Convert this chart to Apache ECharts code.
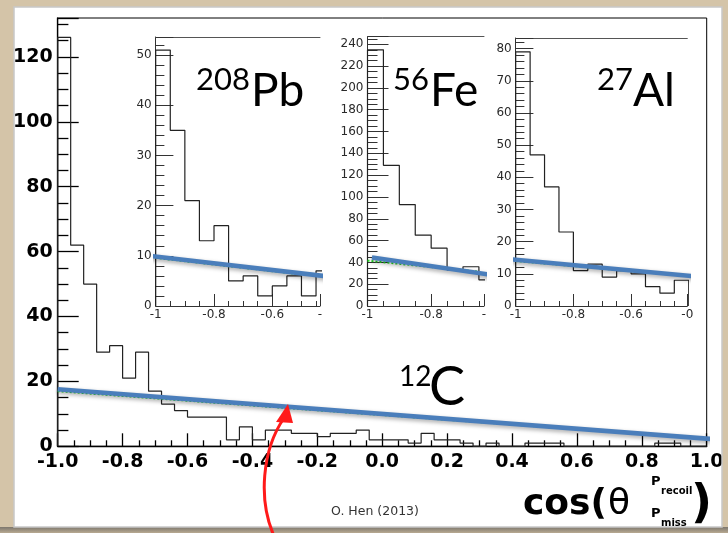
<!DOCTYPE html>
<html><head><meta charset="utf-8">
<script src="https://cdn.jsdelivr.net/npm/echarts@6/dist/echarts.min.js"></script>
<style>html,body{margin:0;padding:0;background:#fff}#c{width:728px;height:533px}</style>
</head><body><div id="c"></div>
<script>
// ---- data ----
const mainBinStart = -1.0, mainBinWidth = 0.04;
const mainCounts = [126,62,50,29,31,21,29,17,13,11, 9,9,9,2,6,2,5,5,4,4, 3,4,4,5,2,2,2,1,4,2, 2,1,0,1,0,0,1,1,1,0, 0,0,0,0,0,0,1,1,0,0];
const insetBinStart = -1.0, insetBinWidth = 0.05;
const pbCounts = [51,35,21,13,16,5,6,2,4,6,2,7];
const feCounts = [235,129,93,65,53,33,36,24];
const alCounts = [79,47,37,23,11,13,9,11,10,6,4,8];
const mainFitBlue = [[-1.0,17.6],[1.015,2.25]];
const mainFitGreen = [[-1.0,17.0],[1.0,2.3]];
const pbFitBlue = [[-1.025,10.0],[-0.402,5.84]];
const pbFitGreen = [[-1.0,9.6],[-0.5,6.3]];
const feFitBlue = [[-0.986,44.4],[-0.586,27.5]];
const feFitGreen = [[-1.0,41.6],[-0.65,31.5]];
const alFitBlue = [[-1.017,14.5],[-0.361,9.1]];
const alFitGreen = [[-1.0,14.0],[-0.4,9.3]];
const mainXTickLabels = ['-1.0','-0.8','-0.6','-0.4','-0.2','0.0','0.2','0.4','0.6','0.8','1.0'];
const mainYTickLabels = ['0','20','40','60','80','100','120'];
const labels = {pb:['208','Pb'], fe:['56','Fe'], al:['27','Al'], c:['12','C']};
const credit = 'O. Hen (2013)';

function stepData(counts, start, width){
  const d = [[start, 0]];
  counts.forEach((v,i)=>{ d.push([start + i*width, v]); });
  d.push([start + counts.length*width, counts[counts.length-1]]);
  d.push([start + counts.length*width, 0]);
  return d;
}
const isMult = (v, s) => Math.abs(v/s - Math.round(v/s)) < 1e-6;

function insetX(grid, max, partial){
  return {type:'value', gridIndex:grid, min:-1, max:max, interval:0.2,
    axisLine:{show:true, onZero:false, lineStyle:{color:'#333', width:1}},
    axisTick:{show:true, inside:true, length:12, lineStyle:{color:'#333'}},
    minorTick:{show:true, splitNumber:4, length:5, lineStyle:{color:'#333'}},
    splitLine:{show:false}, minorSplitLine:{show:false},
    axisLabel:{show:true, margin:3, color:'#2a2a2a', fontSize:12, fontFamily:'DejaVu Sans', showMinLabel:true, showMaxLabel:true,
      formatter:v=>{ if (Math.abs(v+1)<1e-6) return '-1'; if (isMult(v,0.2)) return v.toFixed(1); return partial; }}};
}
function insetTop(grid, max){
  return {type:'value', gridIndex:grid, min:-1, max:max, position:'top',
    axisLine:{show:true, onZero:false, lineStyle:{color:'#555', width:1}},
    axisTick:{show:false}, axisLabel:{show:false}, splitLine:{show:false}};
}
function insetY(grid, max, interval, split, majLen, minLen){
  return {type:'value', gridIndex:grid, min:0, max:max, interval:interval,
    axisLine:{show:true, onZero:false, lineStyle:{color:'#333', width:1}},
    axisTick:{show:true, inside:true, length:majLen, lineStyle:{color:'#333'}},
    minorTick:{show:true, splitNumber:split, length:minLen, lineStyle:{color:'#333'}},
    splitLine:{show:false}, minorSplitLine:{show:false},
    axisLabel:{show:true, margin:4, color:'#2a2a2a', fontSize:12, fontFamily:'DejaVu Sans', showMinLabel:true,
      formatter:v=> isMult(v,interval) ? String(Math.round(v)) : ''}};
}
function hist(data, xi, yi){
  return {type:'line', xAxisIndex:xi, yAxisIndex:yi, data:data, step:'end', symbol:'none', clip:true,
    lineStyle:{color:'#222', width:1.2}, z:3, animation:false};
}
function fit(data, xi, yi, blue){
  return blue ? {type:'line', xAxisIndex:xi, yAxisIndex:yi, data:data, symbol:'none', clip:false, z:6, animation:false,
      lineStyle:{color:'#4a7ebb', width:4.5, shadowBlur:4, shadowColor:'rgba(0,0,0,0.35)', shadowOffsetY:2}}
    : {type:'line', xAxisIndex:xi, yAxisIndex:yi, data:data, symbol:'none', clip:false, z:5, animation:false,
      lineStyle:{color:'#22dd22', width:2, type:'dotted'}};
}

const chart = echarts.init(document.getElementById('c'), null, {renderer:'canvas'});
const boldAxis = {fontFamily:'DejaVu Sans', fontWeight:'bold', fontSize:19, color:'#000'};
const option = {
  backgroundColor:'#fff',
  animation:false,
  grid:[
    {left:57.7, top:18, width:649, height:428.3, show:true, borderColor:'#000', borderWidth:1, outerBoundsMode:'none', containLabel:false},
    {left:155.7, top:37, width:164.3, height:269, outerBoundsMode:'none', containLabel:false},
    {left:367.5, top:36.7, width:116.5, height:269.3, outerBoundsMode:'none', containLabel:false},
    {left:515.7, top:38, width:171.6, height:268, outerBoundsMode:'none', containLabel:false}
  ],
  xAxis:[
    {type:'value', gridIndex:0, min:-1, max:1, interval:0.2,
      axisLine:{show:true, onZero:false, lineStyle:{color:'#000', width:1.3}},
      axisTick:{show:true, inside:true, length:13, lineStyle:{color:'#000', width:1.3}},
      minorTick:{show:true, splitNumber:4, length:6, lineStyle:{color:'#000', width:1.3}},
      splitLine:{show:false}, minorSplitLine:{show:false},
      axisLabel:Object.assign({margin:6, showMinLabel:true, showMaxLabel:true,
        formatter:v=>{ const i = Math.round((v+1)/0.2); return mainXTickLabels[i]; }}, boldAxis)},
    insetX(1, -0.4364, '-'), insetTop(1, -0.4364),
    insetX(2, -0.634, '-'), insetTop(2, -0.634),
    insetX(3, -0.405, '-0'), insetTop(3, -0.405)
  ],
  yAxis:[
    {type:'value', gridIndex:0, min:0, max:132, interval:20,
      axisLine:{show:true, onZero:false, lineStyle:{color:'#000', width:1.3}},
      axisTick:{show:true, inside:true, length:21, lineStyle:{color:'#000', width:1.3}},
      minorTick:{show:true, splitNumber:4, length:10.7, lineStyle:{color:'#000', width:1.3}},
      splitLine:{show:false}, minorSplitLine:{show:false},
      axisLabel:Object.assign({margin:5, showMinLabel:true, showMaxLabel:false,
        formatter:v=> isMult(v,20) ? mainYTickLabels[Math.round(v/20)] : ''}, boldAxis)},
    insetY(1, 53.6, 10, 5, 17.7, 8.7),
    insetY(2, 247, 20, 4, 21, 10),
    insetY(3, 83.3, 10, 5, 17.7, 8.7)
  ],
  series:[
    hist(stepData(mainCounts, mainBinStart, mainBinWidth), 0, 0),
    fit(mainFitGreen, 0, 0, false), fit(mainFitBlue, 0, 0, true),
    hist(stepData(pbCounts, insetBinStart, insetBinWidth), 1, 1),
    fit(pbFitGreen, 1, 1, false), fit(pbFitBlue, 1, 1, true),
    hist(stepData(feCounts, insetBinStart, insetBinWidth), 3, 2),
    fit(feFitGreen, 3, 2, false), fit(feFitBlue, 3, 2, true),
    hist(stepData(alCounts, insetBinStart, insetBinWidth), 5, 3),
    fit(alFitGreen, 5, 3, false), fit(alFitBlue, 5, 3, true)
  ],
  graphic:[
    // paper card surroundings
    {type:'rect', z:100, shape:{x:0,y:0,width:14,height:533}, style:{fill:'#d4c4a8'}},
    {type:'rect', z:100, shape:{x:0,y:0,width:728,height:7}, style:{fill:'#d4c4a8'}},
    {type:'rect', z:100, shape:{x:722,y:0,width:6,height:533}, style:{fill:'#d4c4a8'}},
    {type:'rect', z:100, shape:{x:0,y:527,width:728,height:6}, style:{fill:new echarts.graphic.LinearGradient(0,0,0,1,[{offset:0,color:'#7d776d'},{offset:1,color:'#b8aa92'}])}},
    {type:'rect', z:100, shape:{x:14,y:7,width:708,height:520}, style:{fill:'none', stroke:'#c8c8c8', lineWidth:1.5}},
    // nucleus labels
    {type:'text', z:100, x:196, y:80, style:{text:labels.pb[0], font:'31px Lato', fill:'#000', textVerticalAlign:'middle'}},
    {type:'text', z:100, x:251, y:91, style:{text:labels.pb[1], font:'46px Lato', fill:'#000', textVerticalAlign:'middle'}},
    {type:'text', z:100, x:393, y:80, style:{text:labels.fe[0], font:'31px Lato', fill:'#000', textVerticalAlign:'middle'}},
    {type:'text', z:100, x:430, y:91, style:{text:labels.fe[1], font:'46px Lato', fill:'#000', textVerticalAlign:'middle'}},
    {type:'text', z:100, x:597, y:80, style:{text:labels.al[0], font:'31px Lato', fill:'#000', textVerticalAlign:'middle'}},
    {type:'text', z:100, x:633, y:91, style:{text:labels.al[1], font:'46px Lato', fill:'#000', textVerticalAlign:'middle'}},
    {type:'text', z:100, x:399, y:377, style:{text:labels.c[0], font:'28px Lato', fill:'#000', textVerticalAlign:'middle'}},
    {type:'text', z:100, x:429, y:388, style:{text:labels.c[1], font:'54px Lato', fill:'#000', textVerticalAlign:'middle'}},
    // credit
    {type:'text', z:100, x:375, y:512, style:{text:credit, font:'12.5px "DejaVu Sans"', fill:'#333', textAlign:'center', textVerticalAlign:'middle'}},
    // axis title
    {type:'text', z:100, x:523, y:505, style:{text:'cos(', font:'bold 36px "DejaVu Sans"', fill:'#000', textVerticalAlign:'middle'}},
    {type:'text', z:100, x:608, y:505, style:{text:'θ', font:'36px "DejaVu Sans"', fill:'#000', textVerticalAlign:'middle'}},
    {type:'text', z:100, x:651, y:482, style:{text:'P', font:'bold 13px "DejaVu Sans"', fill:'#000', textVerticalAlign:'middle'}},
    {type:'text', z:100, x:661, y:491, style:{text:'recoil', font:'bold 10px "DejaVu Sans"', fill:'#000', textVerticalAlign:'middle'}},
    {type:'text', z:100, x:651, y:514, style:{text:'P', font:'bold 13px "DejaVu Sans"', fill:'#000', textVerticalAlign:'middle'}},
    {type:'text', z:100, x:661, y:523, style:{text:'miss', font:'bold 10px "DejaVu Sans"', fill:'#000', textVerticalAlign:'middle'}},
    {type:'text', z:100, x:691, y:505, style:{text:')', font:'bold 46px "DejaVu Sans"', fill:'#000', textVerticalAlign:'middle'}},
    // red arrow
    {type:'bezierCurve', z:101, shape:{x1:274,y1:536,cpx1:258,cpy1:500,cpx2:262,cpy2:450,x2:284,y2:418}, style:{stroke:'#ff1a1a', lineWidth:3, fill:'none'}},
    {type:'polygon', z:101, shape:{points:[[288,404],[276,422],[293,423]]}, style:{fill:'#ff1a1a'}}
  ]
};
chart.setOption(option);
</script></body></html>
